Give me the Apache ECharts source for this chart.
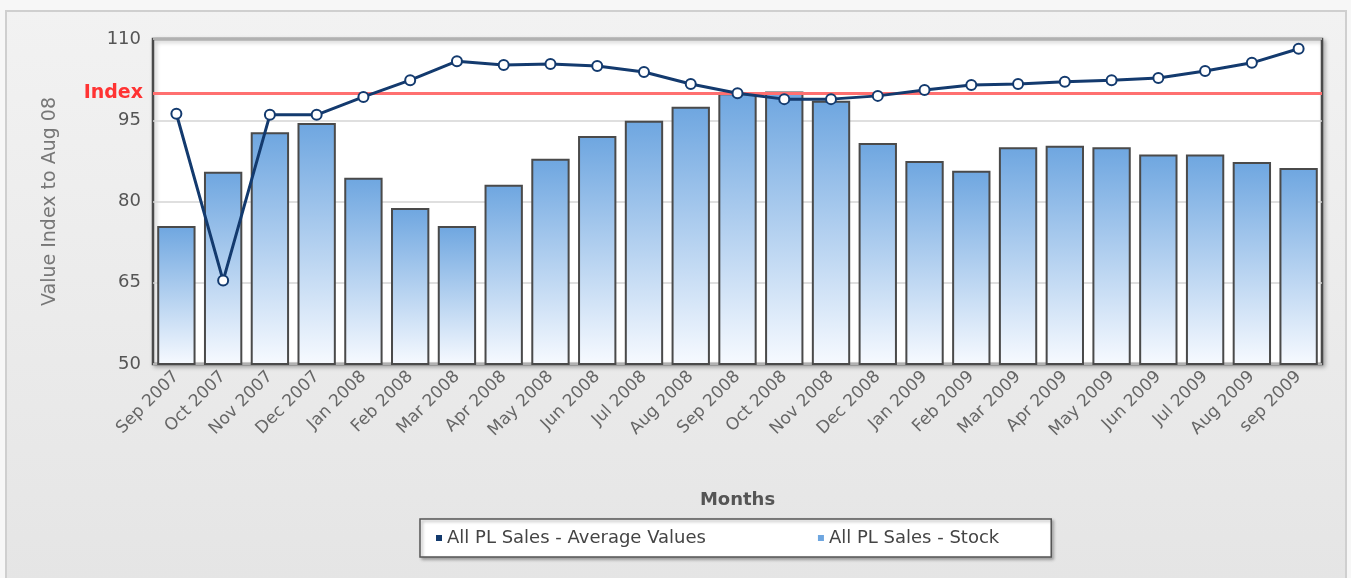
<!DOCTYPE html>
<html>
<head>
<meta charset="utf-8">
<script src="https://cdn.jsdelivr.net/npm/echarts@6/dist/echarts.min.js"></script>
<style>
  html, body { margin: 0; padding: 0; background: #f7f7f7; }
  #chart { width: 1351px; height: 578px; }
</style>
</head>
<body>
<div id="chart"></div>
<script>
var months = ['Sep 2007', 'Oct 2007', 'Nov 2007', 'Dec 2007', 'Jan 2008', 'Feb 2008', 'Mar 2008',
    'Apr 2008', 'May 2008', 'Jun 2008', 'Jul 2008', 'Aug 2008', 'Sep 2008', 'Oct 2008', 'Nov 2008',
    'Dec 2008', 'Jan 2009', 'Feb 2009', 'Mar 2009', 'Apr 2009', 'May 2009', 'Jun 2009', 'Jul 2009',
    'Aug 2009', 'sep 2009'];
var averageValues = [96.2, 65.4, 96, 96, 99.3, 102.4, 105.9, 105.2, 105.4, 105, 103.9, 101.7, 100,
    98.9, 98.9, 99.5, 100.6, 101.5, 101.7, 102.1, 102.4, 102.8, 104.1, 105.6, 108.2];
var stockValues = [75.5, 85.5, 92.8, 94.5, 84.4, 78.8, 75.5, 83.1, 87.9, 92.1, 94.9, 97.5, 100,
    100.3, 98.6, 90.8, 87.5, 85.7, 90, 90.3, 90, 88.7, 88.7, 87.3, 86.2];
var indexValue = 100;

var myChart = echarts.init(document.getElementById('chart'));

var option = {
    animation: false,
    textStyle: { fontFamily: 'DejaVu Sans' },
    graphic: [
        {
            type: 'rect',
            z: -10,
            shape: { x: 6, y: 11, width: 1340, height: 570 },
            style: {
                fill: new echarts.graphic.LinearGradient(0, 0, 0, 1, [
                    { offset: 0, color: '#f2f2f2' },
                    { offset: 1, color: '#e5e5e5' }
                ]),
                stroke: '#cfcfcf',
                lineWidth: 2
            }
        }
    ],
    grid: {
        left: 153,
        top: 39,
        right: 29,
        bottom: 214,
        show: true,
        backgroundColor: '#fff',
        borderColor: '#4a4a4a',
        borderWidth: 2.5,
        shadowColor: 'rgba(0,0,0,0.25)',
        shadowBlur: 4,
        shadowOffsetX: 2,
        shadowOffsetY: 2
    },
    legend: {
        bottom: 21,
        left: 420,
        itemWidth: 6,
        itemHeight: 6,
        itemGap: 112,
        padding: [10, 52, 10, 16],
        backgroundColor: '#fff',
        borderColor: '#555',
        borderWidth: 1.5,
        shadowColor: 'rgba(0,0,0,0.3)',
        shadowBlur: 3,
        shadowOffsetX: 2,
        shadowOffsetY: 2,
        textStyle: { fontSize: 18, color: '#444', fontFamily: 'DejaVu Sans' },
        data: [
            { name: 'All PL Sales - Average Values', icon: 'rect', itemStyle: { color: '#133a6e', borderWidth: 0 } },
            { name: 'All PL Sales - Stock', icon: 'rect', itemStyle: { color: '#6ea6e0', borderWidth: 0 } }
        ]
    },
    xAxis: {
        type: 'category',
        data: months,
        name: 'Months',
        nameLocation: 'middle',
        nameGap: 127,
        nameTextStyle: { fontSize: 18, fontWeight: 'bold', color: '#555' },
        axisLine: { show: false },
        axisTick: { show: false },
        axisLabel: { rotate: 45, fontSize: 17, color: '#666', margin: 10, interval: 0 }
    },
    yAxis: {
        type: 'value',
        min: 50,
        max: 110,
        interval: 15,
        name: 'Value Index to Aug 08',
        nameLocation: 'middle',
        nameGap: 93,
        nameTextStyle: { fontSize: 19, color: '#777' },
        axisLine: { show: false },
        axisTick: { show: false },
        axisLabel: { fontSize: 18, color: '#555', margin: 12 },
        splitLine: { lineStyle: { color: '#d4d4d4', width: 1.5 } }
    },
    series: [
        {
            name: 'All PL Sales - Stock',
            type: 'bar',
            data: stockValues,
            barCategoryGap: '18%',
            z: 2,
            itemStyle: {
                color: new echarts.graphic.LinearGradient(0, 0, 0, 1, [
                    { offset: 0, color: '#6ea6e0' },
                    { offset: 1, color: '#f7faff' }
                ]),
                borderColor: '#4a4a4a',
                borderWidth: 2
            },
            markLine: {
                silent: true,
                symbol: 'none',
                lineStyle: { color: '#ff7070', width: 3, type: 'solid' },
                label: {
                    position: 'start',
                    formatter: 'Index',
                    color: '#ff3333',
                    fontSize: 19,
                    fontWeight: 'bold',
                    distance: 10
                },
                data: [{ yAxis: indexValue }]
            }
        },
        {
            name: 'All PL Sales - Average Values',
            type: 'line',
            data: averageValues,
            z: 5,
            symbol: 'circle',
            symbolSize: 10,
            lineStyle: { color: '#133a6e', width: 3 },
            itemStyle: { color: '#fff', borderColor: '#133a6e', borderWidth: 2 }
        }
    ]
};
myChart.setOption(option);
</script>
</body>
</html>
